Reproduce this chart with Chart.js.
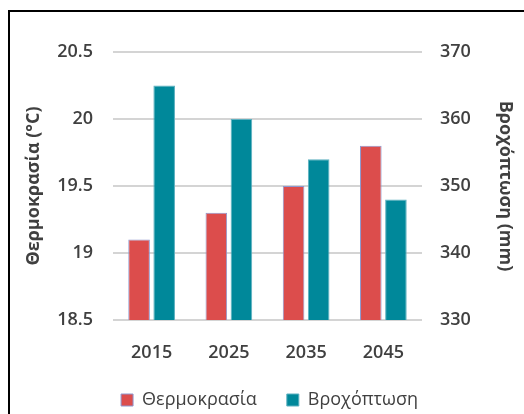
<!DOCTYPE html>
<html>
<head>
<meta charset="utf-8">
<style>
  html, body { margin: 0; padding: 0; background: #fff; }
  #frame { position: absolute; left: 0; top: 0; width: 524px; height: 414px; overflow: hidden; }
  #border { position: absolute; left: 8px; top: 10px; width: 600px; height: 500px;
            border-left: 2px solid #000; border-top: 2px solid #000; }
  #chart { position: absolute; left: 0; top: 0; }
</style>
<script src="https://cdn.jsdelivr.net/npm/chart.js@4"></script>
</head>
<body>
<div id="frame">
  <div id="border"></div>
  <canvas id="chart" width="524" height="414"></canvas>
</div>
<script>
// --- Data ---
const years = ['2015', '2025', '2035', '2045'];
const temperature = [19.1, 19.3, 19.5, 19.8];
const rainfall = [365, 360, 354, 348];
const tempTicks = [18.5, 19, 19.5, 20, 20.5];
const rainTicks = [330, 340, 350, 360, 370];

const FONT = '"Open Sans", "DejaVu Sans", sans-serif';
const TEXT = '#404040';

const ctx = document.getElementById('chart').getContext('2d');
new Chart(ctx, {
  type: 'bar',
  data: {
    labels: years,
    datasets: [{
      label: 'Θερμοκρασία',
      data: temperature,
      yAxisID: 'yTemp',
      backgroundColor: '#dc4d4c',
      borderColor: '#8e98cf',
      borderWidth: 1,
    }, {
      label: 'Βροχόπτωση',
      data: rainfall,
      yAxisID: 'yRain',
      backgroundColor: '#00889a',
      borderColor: '#5cb0c0',
      borderWidth: 1,
    }],
  },
  options: {
    responsive: false,
    animation: false,
    layout: { padding: { left: 19, right: 4, top: 52, bottom: -6 } },
    datasets: { bar: { categoryPercentage: 0.65, barPercentage: 0.86 } },
    plugins: {
      tooltip: { enabled: false },
      legend: {
        position: 'bottom',
        labels: {
          color: TEXT,
          boxWidth: 12,
          boxHeight: 12,
          padding: 30,
          font: { family: FONT, size: 18 },
        },
      },
    },
    scales: {
      x: {
        grid: { display: false },
        border: { display: false },
        ticks: { color: TEXT, padding: 14, font: { family: FONT, size: 18, weight: '600' } },
        afterFit: (s) => { s.height = 41; },
      },
      yTemp: {
        position: 'left',
        min: 18.5,
        max: 20.5,
        afterBuildTicks: (s) => { s.ticks = tempTicks.map((v) => ({ value: v })); },
        ticks: {
          color: TEXT,
          padding: 20,
          font: { family: FONT, size: 18, weight: '600' },
          callback: (v) => String(v),
        },
        grid: { color: '#d4d4d4', lineWidth: 2, drawTicks: false },
        border: { display: false },
        title: {
          display: true,
          text: 'Θερμοκρασία (°C)',
          color: TEXT,
          font: { family: FONT, size: 18, weight: 'bold' },
        },
        afterFit: (s) => { s.width = 94; },
      },
      yRain: {
        position: 'right',
        min: 330,
        max: 370,
        afterBuildTicks: (s) => { s.ticks = rainTicks.map((v) => ({ value: v })); },
        ticks: {
          color: TEXT,
          padding: 18,
          font: { family: FONT, size: 18, weight: '600' },
          callback: (v) => String(v),
        },
        grid: { display: false, drawTicks: false },
        border: { display: false },
        title: {
          display: true,
          text: 'Βροχόπτωση (mm)',
          color: TEXT,
          font: { family: FONT, size: 18, weight: 'bold' },
        },
        afterFit: (s) => { s.width = 98; },
      },
    },
  },
  plugins: [{
    // wide item gap in the legend, but keep its box short
    id: 'legendHeight',
    afterInit(chart) {
      const fit = chart.legend.fit;
      chart.legend.fit = function () {
        fit.call(this);
        this.height = 59;
      };
    },
  }],
});
</script>
</body>
</html>
